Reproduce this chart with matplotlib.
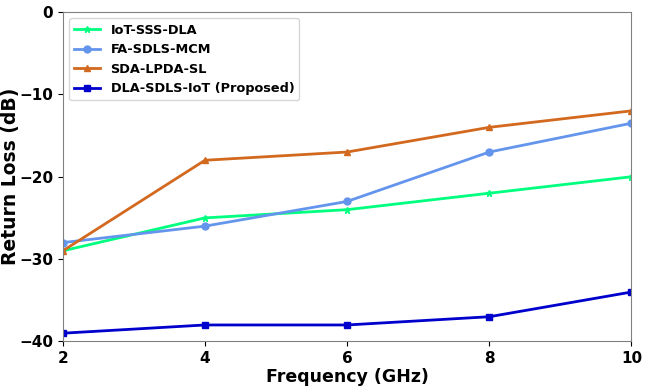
import matplotlib
matplotlib.use('Agg')
import matplotlib.pyplot as plt

# frequencies and return loss values
freq = [2, 4, 6, 8, 10]
iot_sss_dla = [-29, -25, -24, -22, -20]
fa_sdls_mcm = [-28, -26, -23, -17, -13.5]
sda_lpda_sl = [-29, -18, -17, -14, -12]
dla_sdls_iot = [-39, -38, -38, -37, -34]

labels = ['IoT-SSS-DLA', 'FA-SDLS-MCM', 'SDA-LPDA-SL', 'DLA-SDLS-IoT (Proposed)']

fig = plt.figure(figsize=(6.47, 3.88), dpi=100)
ax = fig.add_axes([0.097, 0.12, 0.879, 0.849])

ax.plot(freq, iot_sss_dla, color='springgreen', marker='*', markersize=5, linewidth=2, label=labels[0])
ax.plot(freq, fa_sdls_mcm, color='cornflowerblue', marker='o', markersize=5, linewidth=2, label=labels[1])
ax.plot(freq, sda_lpda_sl, color='chocolate', marker='^', markersize=5, linewidth=2, label=labels[2])
ax.plot(freq, dla_sdls_iot, color='mediumblue', marker='s', markersize=5, linewidth=2, label=labels[3])

ax.set_xlim(2, 10)
ax.set_ylim(-40, 0)
ax.set_xticks([2, 4, 6, 8, 10])
ax.set_yticks([-40, -30, -20, -10, 0])
ax.set_xlabel('Frequency (GHz)', fontsize=12.5, fontweight='bold', labelpad=1)
ax.set_ylabel('Return Loss (dB)', fontsize=13.5, fontweight='bold')
ax.yaxis.set_label_coords(-0.075, 0.5)
for lbl in ax.get_xticklabels() + ax.get_yticklabels():
    lbl.set_fontweight('bold')
    lbl.set_fontsize(11)
for s in ax.spines.values():
    s.set_color('gray')

ax.legend(loc='upper left', prop={'weight': 'bold', 'size': 9.3})

fig.savefig('out.png', dpi=100)
